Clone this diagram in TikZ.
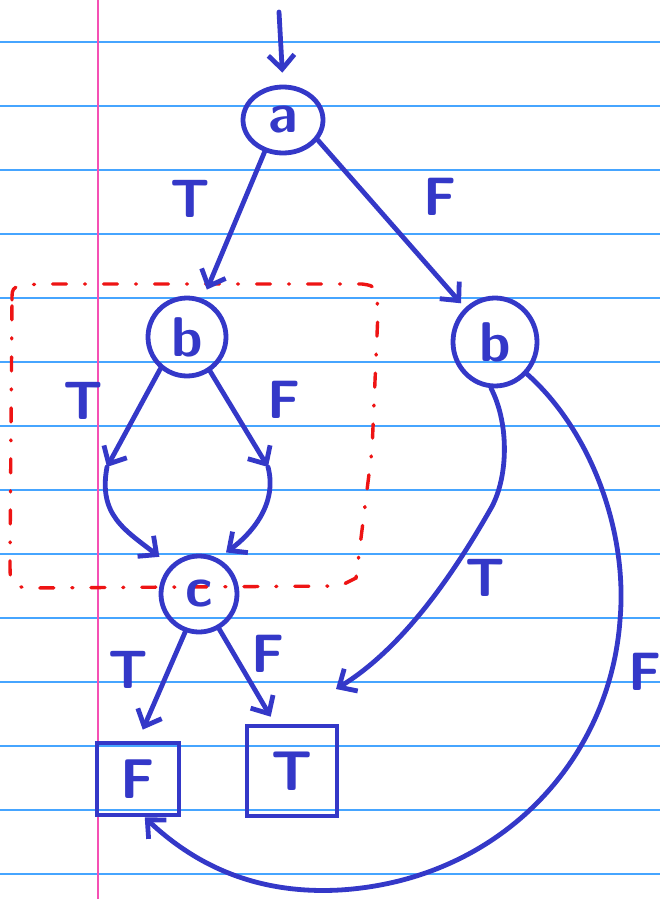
\documentclass[tikz,border=0pt]{standalone}
\usepackage{tikz}
\usetikzlibrary{shapes.geometric, arrows.meta, positioning, calc}
\usepackage{xcolor}
\definecolor{ink}{RGB}{52,56,200}
\definecolor{ruled}{RGB}{70,165,255}
\definecolor{margin}{RGB}{245,80,180}
\definecolor{marker}{RGB}{238,20,20}

\begin{document}
\begin{tikzpicture}[x=0.5pt, y=-0.5pt,
    every node/.style={text=ink},
    var/.style={draw=ink, line width=2.4pt, circle, inner sep=0pt, font=\sffamily\bfseries\fontsize{28}{28}\selectfont},
    leaf/.style={draw=ink, line width=2.4pt, rectangle, inner sep=0pt, font=\sffamily\bfseries\fontsize{28}{28}\selectfont},
    edge/.style={draw=ink, line width=2.4pt, line cap=round, -{Straight Barb[length=7pt,width=13pt]}},
    lbl/.style={font=\sffamily\bfseries\fontsize{27}{27}\selectfont}]
        % Paper
        \fill[white] (0,0) rectangle (660,899);
        \useasboundingbox (0,0) rectangle (660,899);
        \foreach \y in {42,106,...,874}
          \draw[ruled, line width=1pt] (0,\y) -- (660,\y);
        \draw[margin, line width=1.1pt] (98,0) -- (98,899);
        % Marked region (red)
        \draw[marker, line width=1.7pt, line cap=round, dash pattern=on 7pt off 9pt on 0.5pt off 9pt]
          (12,300) .. controls (12,286) .. (40,284) -- (362,284)
          .. controls (376,286) .. (378,312) -- (372,450) -- (356,578)
          -- (340,586) -- (30,588) .. controls (10,586) .. (10,560) -- cycle;
        % Nodes
        \node[var, ellipse, minimum width=40pt, minimum height=33pt] (a) at (283,120) {a};
        \node[var, minimum size=39pt] (b1) at (187,337) {b};
        \node[var, ellipse, minimum width=42pt, minimum height=44pt] (b2) at (495,342) {b};
        \node[var, minimum size=38pt] (c) at (199,594) {c};
        \node[leaf, minimum width=41pt, minimum height=36pt] (fF) at (138,779) {F};
        \node[leaf, minimum width=45pt, minimum height=45pt] (tT) at (292,771) {T};
        \coordinate (start) at (279,12);
        \coordinate (jT) at (107,467);
        \coordinate (jF) at (268,467);
        \coordinate (tTin) at (336,689);
        % Edges from a
        \draw[edge, shorten >=6pt] (start) -- (a.north);
        \draw[edge, shorten >=5pt] (a.240) -- (b1);
        \draw[edge, shorten >=3pt] (a.-30) -- (b2);
        % Edges from b (left)
        \draw[edge] (b1.230) -- (jT);
        \draw[edge] (b1.304) -- (jF);
        \draw[edge, shorten >=7pt] (jT) .. controls (98,515) and (125,530) .. (c.135);
        \draw[edge, shorten >=5pt] (jF) .. controls (278,505) and (250,535) .. (c.62);
        % Edges from b (right)
        \draw[edge] (b2.265) .. controls (510,425) and (508,480) .. (490,510)
          .. controls (450,580) and (400,650) .. (tTin);
        \draw[edge] (b2.-45) .. controls (590,430) and (628,530) .. (620,620)
          .. controls (610,760) and (500,880) .. (340,890)
          .. controls (250,895) and (190,860) .. (fF.-80);
        % Edges from c
        \draw[edge, shorten >=6pt] (c.-110) -- (fF.north);
        \draw[edge, shorten >=4pt] (c.-60) -- (tT.110);
        % Labels
        \node[lbl] (aT) at (190,199) {T};
        \node[lbl] (aF) at (440,197) {F};
        \node[lbl] (b1T) at (83,401) {T};
        \node[lbl] (b1F) at (284,400) {F};
        \node[lbl] (b2T) at (485,578) {T};
        \node[lbl] (b2F) at (645,672) {F};
        \node[lbl] (cT) at (128,670) {T};
        \node[lbl] (cF) at (268,654) {F};
      \end{tikzpicture}
\end{document}
